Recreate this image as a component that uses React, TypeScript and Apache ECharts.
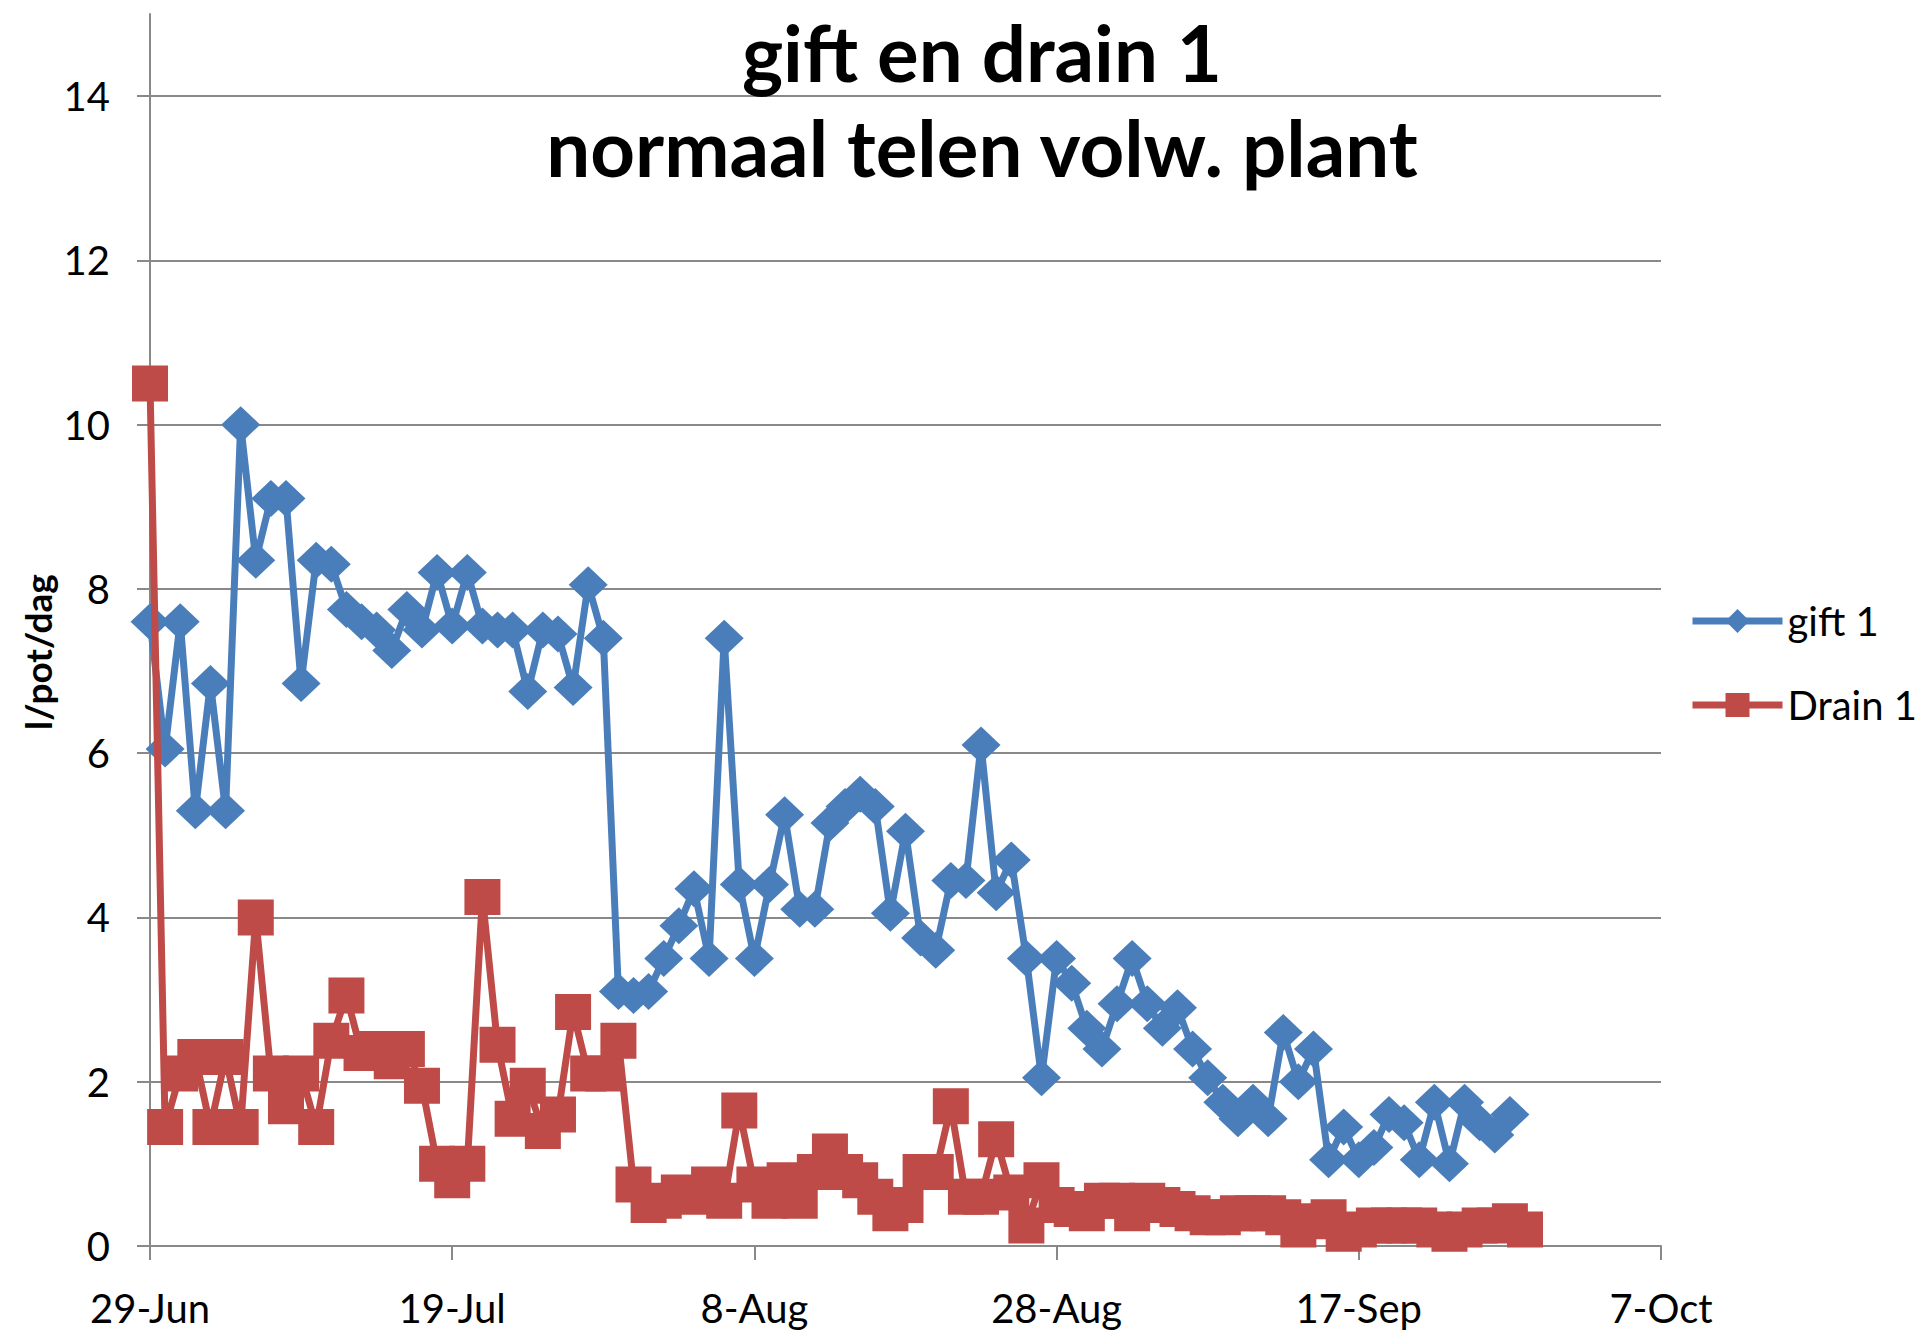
import React, { useEffect, useRef } from "react";
import * as echarts from "echarts";

// day offsets from 29-Jun
const startDate = Date.UTC(2013, 5, 29);
const monthNames = ["Jan", "Feb", "Mar", "Apr", "May", "Jun", "Jul", "Aug", "Sep", "Oct", "Nov", "Dec"];

const giftValues = [
  7.6, 6.05, 7.6, 5.3, 6.85, 5.3, 10.0, 8.35, 9.1, 9.1,
  6.85, 8.35, 8.3, 7.75, 7.6, 7.5, 7.25, 7.75, 7.5, 8.2,
  7.55, 8.2, 7.55, 7.5, 7.5, 6.75, 7.5, 7.45, 6.8, 8.05,
  7.4, 3.1, 3.05, 3.1, 3.5, 3.9, 4.35, 3.5, 7.4, 4.4,
  3.5, 4.4, 5.25, 4.1, 4.1, 5.15, 5.35, 5.5, 5.35, 4.05,
  5.05, 3.75, 3.6, 4.45, 4.45, 6.1, 4.3, 4.7, 3.5, 2.05,
  3.5, 3.2, 2.65, 2.4, 2.95, 3.5, 2.95, 2.65, 2.9, 2.4,
  2.05, 1.75, 1.55, 1.75, 1.55, 2.6, 2.0, 2.4, 1.05, 1.45,
  1.05, 1.2, 1.6, 1.5, 1.05, 1.75, 1.0, 1.75, 1.5, 1.35,
  1.6,
];

const drainValues = [
  10.5, 1.45, 2.1, 2.3, 1.45, 2.3, 1.45, 4.0, 2.1, 1.7,
  2.1, 1.45, 2.5, 3.05, 2.35, 2.4, 2.25, 2.4, 1.95, 1.0,
  0.8, 1.0, 4.25, 2.45, 1.55, 1.95, 1.4, 1.6, 2.85, 2.1,
  2.1, 2.5, 0.75, 0.5, 0.55, 0.65, 0.6, 0.75, 0.55, 1.65,
  0.75, 0.55, 0.8, 0.55, 0.9, 1.15, 0.9, 0.8, 0.6, 0.4,
  0.5, 0.9, 0.9, 1.7, 0.6, 0.6, 1.3, 0.65, 0.25, 0.8,
  0.5, 0.45, 0.4, 0.55, 0.55, 0.4, 0.55, 0.5, 0.45, 0.4,
  0.35, 0.35, 0.4, 0.4, 0.4, 0.35, 0.2, 0.3, 0.35, 0.15,
  0.2, 0.25, 0.25, 0.25, 0.25, 0.2, 0.15, 0.2, 0.25, 0.25,
  0.3, 0.2,
];

const titleLines = ["gift en drain 1", "normaal telen volw. plant"];
const yAxisName = "l/pot/dag";
const seriesNames = ["gift 1", "Drain 1"];

const FONT = "Lato, 'Open Sans', sans-serif";
const GRID_COLOR = "#898989";
const BLUE = "#4A7EBB";
const RED = "#BE4B48";

function formatDay(v: number): string {
  const d = new Date(startDate + v * 86400000);
  return d.getUTCDate() + "-" + monthNames[d.getUTCMonth()];
}

export default function App() {
  const ref = useRef<HTMLDivElement>(null);
  useEffect(() => {
    if (!ref.current) return;
    const chart = echarts.init(ref.current, null, { renderer: "svg" });
    chart.setOption({
      animation: false,
      backgroundColor: "#ffffff",
      title: {
        text: titleLines.join("\n"),
        left: 982,
        top: 4,
        padding: 0,
        textAlign: "center",
        textStyle: {
          fontFamily: FONT,
          fontWeight: "bold",
          fontSize: 78,
          lineHeight: 95,
          color: "#000",
        },
      },
      legend: {
        orient: "vertical",
        left: 1684,
        top: 596,
        itemWidth: 90,
        itemHeight: 30,
        itemGap: 44,
        lineStyle: { width: 7 },
        textStyle: { fontFamily: FONT, fontSize: 40, color: "#000" },
        data: seriesNames,
      },
      grid: { left: 150, top: 14, width: 1511, height: 1232, containLabel: false },
      xAxis: {
        type: "value",
        min: 0,
        max: 100,
        interval: 20,
        axisLine: { show: true, lineStyle: { color: GRID_COLOR, width: 2 } },
        axisTick: { show: true, length: 14, lineStyle: { color: GRID_COLOR, width: 2 } },
        splitLine: { show: false },
        axisLabel: {
          margin: 42,
          fontFamily: FONT,
          fontSize: 40,
          color: "#000",
          formatter: (v: number) => formatDay(v),
        },
      },
      yAxis: {
        type: "value",
        min: 0,
        max: 15,
        interval: 2,
        axisLine: { show: true, lineStyle: { color: GRID_COLOR, width: 2 } },
        axisTick: { show: true, length: 13, lineStyle: { color: GRID_COLOR, width: 2 } },
        splitLine: { show: true, showMaxLine: false, lineStyle: { color: GRID_COLOR, width: 2 } },
        axisLabel: {
          margin: 40,
          fontFamily: FONT,
          fontSize: 40,
          color: "#000",
          showMaxLabel: false,
          formatter: (v: number) => (v % 2 === 0 ? String(v) : ""),
        },
      },
      graphic: [
        {
          type: "text",
          x: 37,
          y: 652,
          rotation: Math.PI / 2,
          style: {
            text: yAxisName,
            fontFamily: FONT,
            fontWeight: "bold",
            fontSize: 37,
            fill: "#000",
            align: "center",
            verticalAlign: "middle",
          },
        },
      ],
      series: [
        {
          name: seriesNames[0],
          type: "line",
          data: giftValues.map((v, i) => [i, v]),
          symbol: "diamond",
          symbolSize: [39, 37],
          lineStyle: { color: BLUE, width: 7 },
          itemStyle: { color: BLUE },
          z: 3,
        },
        {
          name: seriesNames[1],
          type: "line",
          data: drainValues.map((v, i) => [i, v]),
          symbol: "rect",
          symbolSize: [36, 36],
          lineStyle: { color: RED, width: 7 },
          itemStyle: { color: RED },
          z: 4,
        },
      ],
    });
    return () => chart.dispose();
  }, []);
  return (
    <div
      ref={ref}
      style={{ position: "absolute", left: 0, top: 0, width: 1923, height: 1331 }}
    />
  );
}
